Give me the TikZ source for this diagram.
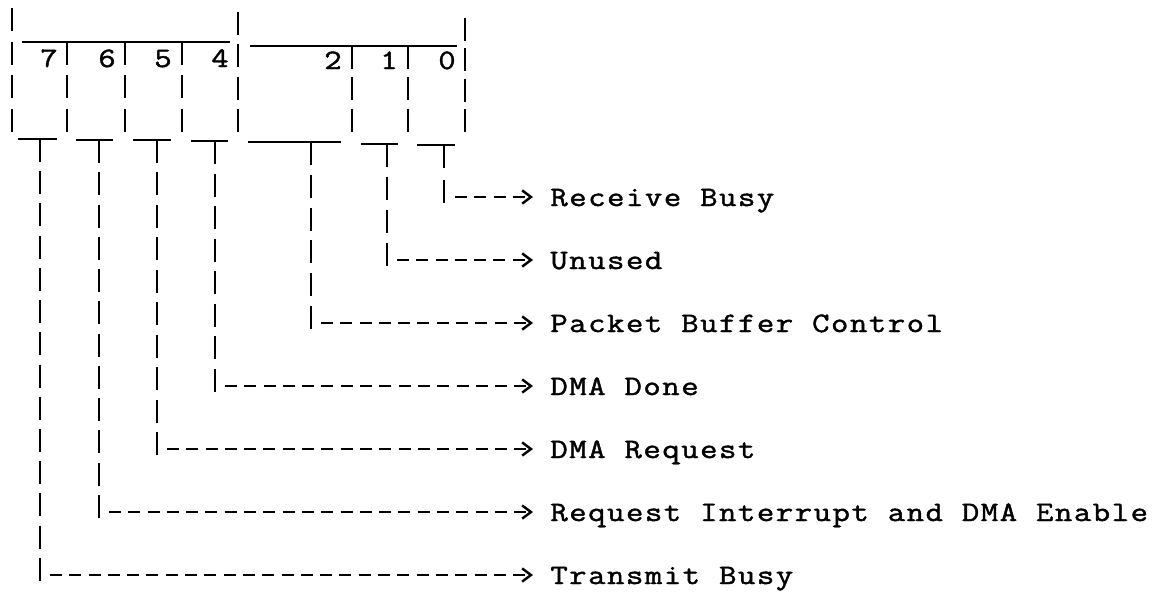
\documentclass[tikz,border=0pt]{standalone}
\usepackage{fontspec}
\setmonofont{Latin Modern Mono}[FakeStretch = 1.2, LetterSpace = 5.5, FakeBold = 1.5]
\usetikzlibrary{arrows.meta}

\begin{document}
\begin{tikzpicture}[x = 0.02cm, y = -0.02cm, font = \ttfamily\fontsize{16}{20}\selectfont]
	\tikzstyle{tickStyle} = [line width = 1.4pt, dash pattern = on 0.46cm off 0.19cm]
	\tikzstyle{barStyle} = [line width = 1.6pt]
	\tikzstyle{leadStyle} = [line width = 1.5pt, dash pattern = on 0.24cm off 0.146cm, -{Straight Barb[length = 5pt, width = 7.5pt, line width = 1.4pt]}, shorten > = 0.34cm]
	\tikzstyle{bitStyle} = [anchor = base, inner sep = 0pt]
	\tikzstyle{nameStyle} = [anchor = base west, inner sep = 0pt]
	\useasboundingbox (0, 0) rectangle (1155, 599);
	% register bits
	\draw[tickStyle, dash pattern = on 0.46cm off 0.213cm] (12, 8) -- (12, 132);
	\draw[tickStyle, dash pattern = on 0.46cm off 0.187cm] (238, 12) -- (238, 132);
	\draw[tickStyle, dash pattern = on 0.46cm off 0.147cm] (465, 18) -- (465, 132);
	\draw[barStyle] (22, 42) -- (230, 42);
	\draw[barStyle] (250, 46) -- (457, 46);
	\draw[tickStyle, dash pattern = on 0.46cm off 0.21cm] (67, 42) -- (67, 132);
	\draw[tickStyle, dash pattern = on 0.46cm off 0.21cm] (125, 42) -- (125, 132);
	\draw[tickStyle, dash pattern = on 0.46cm off 0.21cm] (182, 42) -- (182, 132);
	\draw[tickStyle, dash pattern = on 0.46cm off 0.17cm] (352, 46) -- (352, 132);
	\draw[tickStyle, dash pattern = on 0.46cm off 0.17cm] (408, 46) -- (408, 132);
	\node[bitStyle] (d7) at (49, 67) {7};
	\node[bitStyle] (d6) at (107, 67) {6};
	\node[bitStyle] (d5) at (163, 67) {5};
	\node[bitStyle] (d4) at (220, 67) {4};
	\node[bitStyle] (d2) at (333, 69) {2};
	\node[bitStyle] (d1) at (389, 69) {1};
	\node[bitStyle] (d0) at (447, 69) {0};
	% tees under the bits
	\draw[barStyle] (18, 139) -- (57, 139);
	\draw[barStyle] (76, 140) -- (113, 140);
	\draw[barStyle] (133, 140) -- (171, 140);
	\draw[barStyle] (191, 141) -- (228, 141);
	\draw[barStyle] (248, 142) -- (341, 142);
	\draw[barStyle] (361, 144) -- (398, 144);
	\draw[barStyle] (417, 145) -- (455, 145);
	\draw[tickStyle, dash pattern = on 0.46cm off 0.1846cm] (40, 139) -- (40, 581);
	\draw[tickStyle, dash pattern = on 0.46cm off 0.1855cm] (99, 140) -- (99, 518);
	\draw[tickStyle, dash pattern = on 0.46cm off 0.1889cm] (157, 140) -- (157, 455);
	\draw[tickStyle, dash pattern = on 0.46cm off 0.1914cm] (215, 141) -- (215, 392);
	\draw[tickStyle, dash pattern = on 0.46cm off 0.196cm] (311, 142) -- (311, 329);
	\draw[tickStyle, dash pattern = on 0.46cm off 0.2cm] (387, 144) -- (387, 266);
	\draw[tickStyle, dash pattern = on 0.46cm off 0.24cm] (444, 145) -- (444, 203);
	% bit names
	\node[nameStyle] (rcvBusy) at (550, 206) {Receive Busy};
	\node[nameStyle] (unused) at (550, 269) {Unused};
	\node[nameStyle] (pktBuf) at (550, 332) {Packet Buffer Control};
	\node[nameStyle] (dmaDone) at (550, 395) {DMA Done};
	\node[nameStyle] (dmaReq) at (550, 458) {DMA Request};
	\node[nameStyle] (reqInt) at (550, 521) {Request Interrupt and DMA Enable};
	\node[nameStyle] (xmtBusy) at (550, 584) {Transmit Busy};
	\coordinate (s0) at (455, 197);
	\coordinate (s1) at (397, 260);
	\coordinate (s2) at (321, 323);
	\coordinate (s4) at (225, 386);
	\coordinate (s5) at (167, 449);
	\coordinate (s6) at (109, 512);
	\coordinate (s7) at (50, 575);
	\draw[leadStyle] (s0) -- (s0 -| rcvBusy.west);
	\draw[leadStyle] (s1) -- (s1 -| unused.west);
	\draw[leadStyle] (s2) -- (s2 -| pktBuf.west);
	\draw[leadStyle] (s4) -- (s4 -| dmaDone.west);
	\draw[leadStyle] (s5) -- (s5 -| dmaReq.west);
	\draw[leadStyle] (s6) -- (s6 -| reqInt.west);
	\draw[leadStyle] (s7) -- (s7 -| xmtBusy.west);
\end{tikzpicture}
\end{document}
